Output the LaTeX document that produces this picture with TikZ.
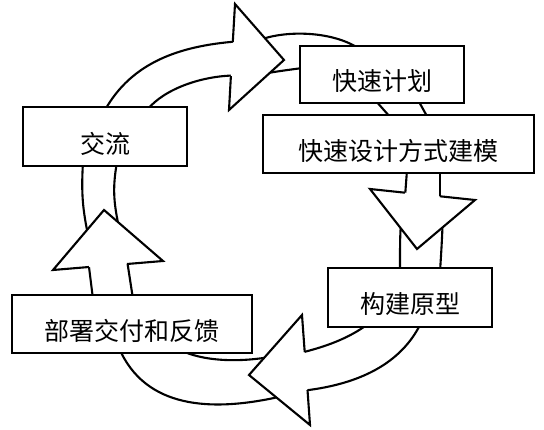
\documentclass[tikz,border=0pt]{standalone}
\usepackage{fontspec}
\newfontfamily\cjk{Noto Sans CJK SC}
\begin{document}
\begin{tikzpicture}[x=1pt,y=-1pt,line width=2.1pt,line join=miter,
  box/.style={draw,fill=white,rectangle,inner sep=0pt,line width=2.1pt},
  lbl/.style={font=\cjk\fontsize{25}{25}\selectfont,inner sep=0pt,yshift=-7pt},
  band/.style={draw,line width=2.1pt},
  headfill/.style={fill=white},
  headline/.style={draw,line width=2.1pt,line join=miter}]
\useasboundingbox[fill=white] (0,0) rectangle (544,430);

% ---- ring bands ----
% from 交流 up to arrowhead 1
\draw[band] (105,110) .. controls (132,62) and (180,46) .. (236,41.5);
\draw[band] (147,110) .. controls (165,88) and (203,76) .. (234,75.5);
% arrowhead 1 to 快速计划
\draw[band] (255,42) .. controls (280,30) and (330,30) .. (358,48);
\draw[band] (262,74) .. controls (280,71) .. (310,67);
% 快速计划 to 快速设计方式建模
\draw[band] (375,100) -- (391,118);
\draw[band] (418,100) -- (428,118);
% 快速设计方式建模 down to arrowhead 2
\draw[band] (407,170) -- (405,197);
\draw[band] (440,170) -- (440,200);
% arrowhead 2 to 构建原型
\draw[band] (402,210) .. controls (400,235) .. (400,272);
\draw[band] (443,212) .. controls (442,240) .. (440,272);
% 构建原型 to arrowhead 3
\draw[band] (368,324) .. controls (348,339) and (324,347) .. (302,352.5);
\draw[band] (421,323) .. controls (401,364) and (359,384) .. (305,390.5);
% arrowhead 3 to 部署交付和反馈
\draw[band] (275,356) .. controls (245,362) and (205,363) .. (178,349);
\draw[band] (283,396) .. controls (210,413) and (145,408) .. (119,348);
% 部署交付和反馈 up to arrowhead 4
\draw[band] (93,299) -- (88.5,263);
\draw[band] (133,299) -- (127,260);
% arrowhead 4 to 交流
\draw[band] (83,162) .. controls (81,195) and (83,210) .. (88,235);
\draw[band] (117,162) .. controls (112,190) and (114,205) .. (120,232);

% ---- arrowheads ----
\coordinate (h1a) at (235,4);   \coordinate (h1t) at (284,60);  \coordinate (h1b) at (229,110);
\coordinate (h1s) at (232.8,42); \coordinate (h1r) at (230.9,76);
\fill[headfill] (h1a) -- (h1t) -- (h1b) -- cycle;
\draw[headline] (h1s) -- (h1a) -- (h1t) -- (h1b) -- (h1r);

\coordinate (h2a) at (370,189); \coordinate (h2t) at (417,249); \coordinate (h2b) at (475,200);
\coordinate (h2s) at (405,192.7); \coordinate (h2r) at (440,196.3);
\fill[headfill] (h2a) -- (h2t) -- (h2b) -- cycle;
\draw[headline] (h2s) -- (h2a) -- (h2t) -- (h2b) -- (h2r);

\coordinate (h3a) at (302,315); \coordinate (h3t) at (249,375); \coordinate (h3b) at (310,425);
\coordinate (h3s) at (304.7,352); \coordinate (h3r) at (307.5,390);
\fill[headfill] (h3a) -- (h3t) -- (h3b) -- cycle;
\draw[headline] (h3s) -- (h3a) -- (h3t) -- (h3b) -- (h3r);

\coordinate (h4a) at (53,270); \coordinate (h4t) at (104,210); \coordinate (h4b) at (163,261);
\coordinate (h4s) at (89,267); \coordinate (h4r) at (127,264);
\fill[headfill] (h4a) -- (h4t) -- (h4b) -- cycle;
\draw[headline] (h4s) -- (h4a) -- (h4t) -- (h4b) -- (h4r);

% ---- boxes ----
\node[box,minimum width=164pt,minimum height=59pt] (jl) at (105,136.5) {};
\node[lbl] (jlt) at (jl) {交流};
\node[box,minimum width=164pt,minimum height=57pt] (ksjh) at (382,74.5) {};
\node[lbl] (ksjht) at (ksjh) {快速计划};
\node[box,minimum width=271pt,minimum height=58pt] (kssj) at (398.5,144) {};
\node[lbl] (kssjt) at (kssj) {快速设计方式建模};
\node[box,minimum width=164pt,minimum height=59pt] (gjyx) at (410,297.5) {};
\node[lbl] (gjyxt) at (gjyx) {构建原型};
\node[box,minimum width=240pt,minimum height=58pt] (bs) at (132,324) {};
\node[lbl] (bst) at (bs) {部署交付和反馈};
\end{tikzpicture}
\end{document}
